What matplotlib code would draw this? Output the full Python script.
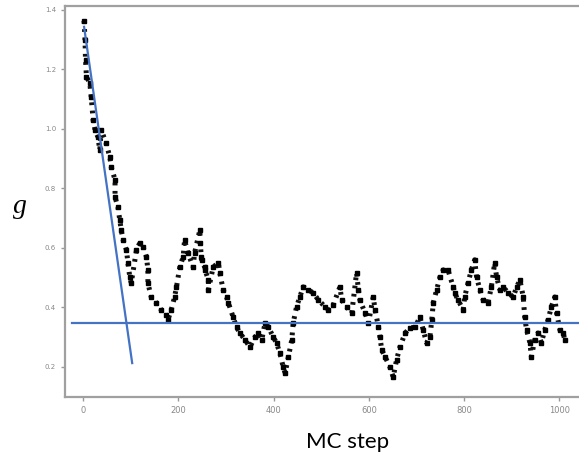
import numpy as np
import matplotlib.pyplot as plt

# MC trace (step, g)
steps = [2, 4, 5, 7, 14, 17, 21, 25, 31, 35, 38, 48, 56, 59, 67, 67, 73, 77, 80, 84,
         91, 94, 98, 101, 112, 119, 126, 133, 136, 136, 143, 154, 164, 175, 178, 185,
         192, 196, 203, 210, 213, 220, 231, 234, 245, 246, 248, 249, 255, 256, 263, 263,
         273, 284, 287, 294, 301, 305, 315, 322, 329, 340, 350, 361, 368, 375, 382, 389,
         399, 406, 413, 420, 424, 431, 438, 441, 448, 455, 462, 473, 483, 494, 508, 515,
         525, 539, 543, 553, 564, 574, 578, 581, 592, 599, 609, 613, 620, 623, 627, 634,
         644, 651, 658, 665, 676, 686, 697, 707, 714, 721, 728, 732, 735, 742, 749, 756,
         766, 777, 780, 787, 798, 801, 808, 815, 822, 826, 833, 840, 850, 857, 864, 868,
         875, 882, 892, 903, 910, 917, 924, 927, 931, 938, 941, 948, 955, 962, 969, 976,
         983, 990, 994, 1001, 1008, 1011]
g_vals = [1.363, 1.299, 1.232, 1.175, 1.155, 1.107, 1.030, 0.997, 0.973, 0.929, 0.997,
          0.953, 0.906, 0.872, 0.829, 0.771, 0.738, 0.694, 0.660, 0.627, 0.593, 0.550,
          0.502, 0.482, 0.593, 0.617, 0.603, 0.570, 0.526, 0.482, 0.435, 0.415, 0.392,
          0.375, 0.358, 0.392, 0.435, 0.469, 0.536, 0.570, 0.627, 0.583, 0.536, 0.583,
          0.660, 0.617, 0.570, 0.560, 0.536, 0.526, 0.492, 0.459, 0.536, 0.550, 0.516,
          0.459, 0.435, 0.415, 0.368, 0.334, 0.314, 0.291, 0.267, 0.301, 0.314, 0.291,
          0.348, 0.334, 0.301, 0.281, 0.247, 0.200, 0.180, 0.234, 0.291, 0.348, 0.402,
          0.435, 0.469, 0.459, 0.449, 0.425, 0.402, 0.392, 0.408, 0.469, 0.425, 0.402,
          0.381, 0.516, 0.459, 0.425, 0.381, 0.348, 0.435, 0.392, 0.334, 0.301, 0.257,
          0.234, 0.200, 0.166, 0.224, 0.267, 0.314, 0.331, 0.334, 0.368, 0.324, 0.281,
          0.301, 0.358, 0.415, 0.459, 0.502, 0.526, 0.526, 0.469, 0.449, 0.425, 0.392,
          0.435, 0.482, 0.526, 0.560, 0.502, 0.459, 0.425, 0.415, 0.469, 0.550, 0.502,
          0.459, 0.469, 0.449, 0.435, 0.469, 0.492, 0.435, 0.368, 0.324, 0.281, 0.234,
          0.291, 0.314, 0.281, 0.324, 0.358, 0.402, 0.435, 0.381, 0.324, 0.314, 0.291]

# hand drawn guide lines
slope_x = [2, 103]
slope_y = [1.343, 0.213]
flat_x = [-23, 1045]
flat_y = [0.348, 0.348]

xticks = [0, 200, 400, 600, 800, 1000]
xtick_labels = ['0', '200', '400', '600', '800', '1000']
yticks = [0.2, 0.4, 0.6, 0.8, 1.0, 1.2, 1.4]
ytick_labels = ['0.2', '0.4', '0.6', '0.8', '1.0', '1.2', '1.4']

fig = plt.figure(figsize=(5.79, 4.63), dpi=100)
ax = fig.add_axes([0.1123, 0.1425, 0.8877, 0.8445])

# dotted trace, so it reads as a band of dots
ax.plot(steps, g_vals, color='#111111', lw=3.6, ls=(0, (0.55, 1.1)), zorder=2)
ax.plot(steps, g_vals, 's', color='black', ms=2.8, zorder=2)

ax.plot(slope_x, slope_y, color='#4472C4', lw=1.6, zorder=3)
ax.plot(flat_x, flat_y, color='#4472C4', lw=1.6, zorder=3)

ax.set_xlim(-38, 1041)
ax.set_ylim(0.099, 1.413)
ax.set_xticks(xticks)
ax.set_xticklabels(xtick_labels, fontsize=6, color='#888888')
ax.set_yticks(yticks)
ax.set_yticklabels(ytick_labels, fontsize=5, color='#888888')
ax.tick_params(colors='#999999', length=3, width=1, labelcolor='#888888')

for side in ['left', 'top', 'bottom']:
    ax.spines[side].set_color('#a0a0a0')
    ax.spines[side].set_linewidth(1.6)
ax.spines['right'].set_visible(False)

fig.text(0.035, 0.555, 'g', fontsize=20, family='Liberation Serif',
         style='italic', ha='center', va='center')
fig.text(0.601, 0.045, 'MC step', fontsize=16, family='Lato',
         ha='center', va='center')

fig.savefig('out.png', dpi=100)
